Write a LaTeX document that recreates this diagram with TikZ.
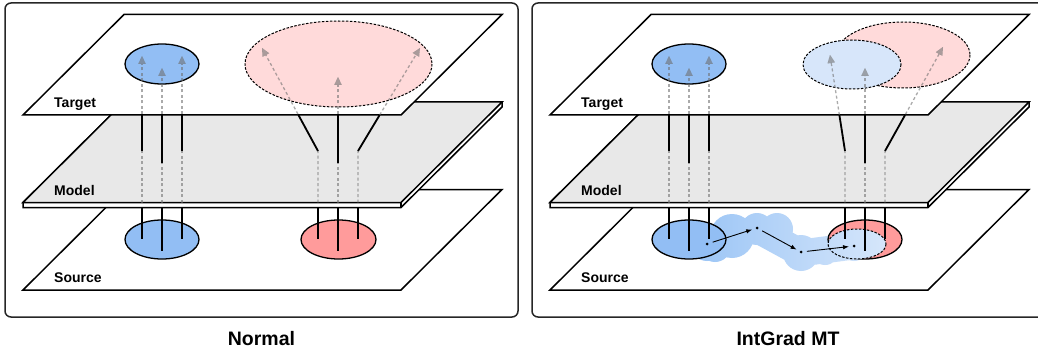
\documentclass[tikz,border=0pt]{standalone}
\usepackage{fontspec}
\setmainfont{Liberation Sans}
\usetikzlibrary{arrows.meta,calc,shapes.geometric}
\definecolor{srcBlue}{HTML}{92BEF4}
\definecolor{srcRed}{HTML}{FF9B9B}
\definecolor{tgtPink}{HTML}{FFDADA}
\definecolor{tgtBlue}{HTML}{D7E6FA}
\definecolor{slabGray}{HTML}{E8E8E8}
\definecolor{flowGray}{HTML}{6E6E6E}
\definecolor{blobL}{HTML}{96C2F5}
\definecolor{blobR}{HTML}{D9E8FB}
\tikzset{
  panel/.style={draw=black!85, line width=1.5pt, rounded corners=6pt},
  plane/.style={draw=black, line width=1.5pt, fill=white, line join=miter},
  slabtop/.style={plane, fill=slabGray},
  ring/.style={draw=black, line width=1.3pt},
  dashring/.style={draw=black, line width=1pt, dash pattern=on 2.5pt off 1.5pt},
  flow/.style={draw=flowGray, draw opacity=0.58, fill opacity=0.58, line width=1.3pt,
    dash pattern=on 3pt off 2.5pt, -{Triangle[length=8pt,width=7.5pt,line width=0.01pt]}},
  wire/.style={draw=black, line width=1.8pt},
  hop/.style={draw=black, line width=0.9pt, -{Latex[length=6pt,width=4.5pt]}, shorten <=6pt, shorten >=5pt},
  ptdot/.style={circle, fill=black, inner sep=0pt, minimum size=3pt},
  layerlbl/.style={font=\fontsize{14}{16}\selectfont\bfseries, anchor=base west, inner sep=0pt},
  paneltitle/.style={font=\fontsize{19.5}{22}\selectfont\bfseries, anchor=base, inner sep=0pt}
}
% planes shared by both panels
\newcommand\SrcPlane{\path[plane] (23,290) -- (401,290) -- (502,189.5) -- (124,189.5) -- cycle;}
\newcommand\ModelSlab{%
  \path[plane] (23,202.5) -- (23,207.5) -- (401,207.5) -- (502,107) -- (502,102) -- (124,102) -- cycle;
  \path[slabtop] (23,202.5) -- (401,202.5) -- (502,102) -- (124,102) -- cycle;
  \draw[line width=1.5pt] (401,202.5) -- (401,207.5);}
\newcommand\TgtPlane{\path[plane] (23,115) -- (401,115) -- (502,14.5) -- (124,14.5) -- cycle;}
\newcommand\Labels{%
  \node[layerlbl] (lt) at (54,107.3) {Target};
  \node[layerlbl] (lm) at (54,195) {Model};
  \node[layerlbl] (ls) at (54,282.7) {Source};}
\newcommand\BlueSrc{%
  \path[ring, fill=srcBlue] (162,239.5) ellipse[x radius=37, y radius=19.5];
  \draw[wire] (142,207.5) -- (142,239);
  \draw[wire] (162,207.5) -- (162,251);
  \draw[wire] (182,207.5) -- (182,239);}
\newcommand\BlueTgt{%
  \path[ring, fill=srcBlue] (162,64) ellipse[x radius=37, y radius=20];}
\newcommand\BlueFlow{%
  \draw[flow] (142,202.5) -- (142,56);
  \draw[flow] (162,202.5) -- (162,68);
  \draw[flow] (182,202.5) -- (182,56);
  \draw[wire] (142,115) -- (142,151);
  \draw[wire] (162,115) -- (162,163);
  \draw[wire] (182,115) -- (182,151);}
\newcommand\RedSrcWires{%
  \draw[wire] (318,207.5) -- (318,239);
  \draw[wire] (338,207.5) -- (338,251);
  \draw[wire] (358,207.5) -- (358,239);}

\begin{document}
\begin{tikzpicture}[x=1pt,y=-1pt]
\useasboundingbox (0,0) rectangle (1038,350);
\clip (0,0) rectangle (1038,350);

% ================= Normal =================
\begin{scope}[name prefix=L-]
  \draw[panel] (5,3) rectangle (518,317);
  \SrcPlane
  \BlueSrc
  \path[ring, fill=srcRed] (338.5,239.5) ellipse[x radius=37.5, y radius=19.5];
  \RedSrcWires
  \ModelSlab
  \TgtPlane
  \BlueTgt
  \path[dashring, fill=tgtPink] (338.5,64) ellipse[x radius=93.5, y radius=43];
  \BlueFlow
  \coordinate (b1) at (318,151); \coordinate (t1) at (262,48);
  \coordinate (b2) at (338,151); \coordinate (t2) at (338,77);
  \coordinate (b3) at (358,151); \coordinate (t3) at (420,48);
  \draw[flow] (318,202.5) -- (b1) -- (t1);
  \draw[flow] (338,202.5) -- (t2);
  \draw[flow] (358,202.5) -- (b3) -- (t3);
  \draw[wire] (b1) -- ($(b1)!0.3495!(t1)$);
  \draw[wire] (338,115) -- (338,163);
  \draw[wire] (b3) -- ($(b3)!0.3495!(t3)$);
  \Labels
  \node[paneltitle] (title) at (261.5,345) {Normal};
\end{scope}

% ================= IntGrad MT =================
\begin{scope}[shift={(527,0)}, name prefix=R-]
  \draw[panel] (5,3) rectangle (518,317);
  \SrcPlane
  % integration path blob (union of discs, shaded left to right)
  \begin{scope}
    \clip (205,236) circle[radius=22] (188,246) circle[radius=16] (180,244) circle[radius=17]
      (230,229) circle[radius=16] (250,229) circle[radius=16]
      (274,253) circle[radius=18] (298,251) circle[radius=14] (327,246) circle[radius=15]
      \foreach \t in {0,0.025,...,1.01} {
        ({230+44*\t},{229+24*\t}) circle[radius=14]
        ({274+53*\t},{253-7*\t}) circle[radius=13.5]
      };
    \shade[left color=blobL, right color=blobR] (150,200) rectangle (370,280);
  \end{scope}
  \BlueSrc
  \path[ring, fill=srcRed] (338,239.5) ellipse[x radius=37, y radius=19.5];
  \begin{scope}
    \clip (330,244) ellipse[x radius=29, y radius=15];
    \shade[left color=blobL, right color=blobR] (150,200) rectangle (370,280);
  \end{scope}
  \draw[dashring] (330,244) ellipse[x radius=29, y radius=15];
  \RedSrcWires
  \node[ptdot] (p1) at (180,244) {};
  \node[ptdot] (p2) at (230,228) {};
  \node[ptdot] (p3) at (274,252) {};
  \node[ptdot] (p4) at (327,246) {};
  \draw[hop] (p1.center) -- (p2.center);
  \draw[hop] (p2.center) -- (p3.center);
  \draw[hop] (p3.center) -- (p4.center);
  \ModelSlab
  \TgtPlane
  \BlueTgt
  \path[dashring, fill=tgtPink] (376,55) ellipse[x radius=67, y radius=33];
  \path[dashring, fill=tgtBlue] (325,64.5) ellipse[x radius=49, y radius=24.5];
  \BlueFlow
  \coordinate (b1) at (318,151); \coordinate (t1) at (303,55);
  \coordinate (b2) at (338,151); \coordinate (t2) at (338,68);
  \coordinate (b3) at (358,151); \coordinate (t3) at (416,47);
  \draw[flow] (318,202.5) -- (b1) -- (t1);
  \draw[flow] (338,202.5) -- (t2);
  \draw[flow] (358,202.5) -- (b3) -- (t3);
  \draw[wire] (b1) -- ($(b1)!0.375!(t1)$);
  \draw[wire] (338,115) -- (338,163);
  \draw[wire] (b3) -- ($(b3)!0.346!(t3)$);
  \Labels
  \node[paneltitle] (title) at (261,345) {IntGrad MT};
\end{scope}
\end{tikzpicture}
\end{document}
